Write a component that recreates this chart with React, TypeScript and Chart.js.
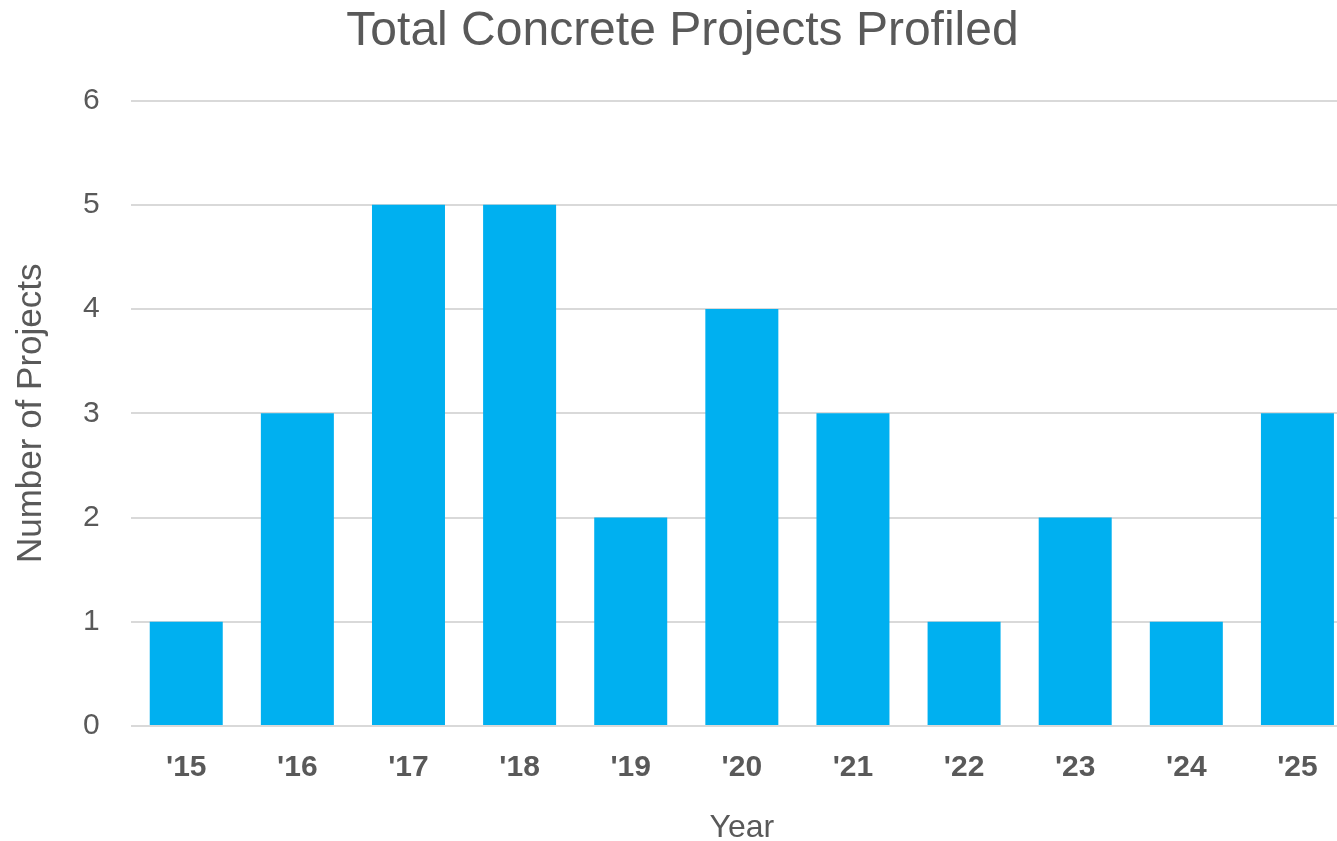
import React, { useEffect, useRef } from "react";
import { Chart, registerables } from "chart.js";

Chart.register(...registerables);

const categories = ["'15", "'16", "'17", "'18", "'19", "'20", "'21", "'22", "'23", "'24", "'25"];
const projects = [1, 3, 5, 5, 2, 4, 3, 1, 2, 1, 3];
const yTicks = [0, 1, 2, 3, 4, 5, 6];

const FONT = "'Liberation Sans', Arial, sans-serif";
const GREY = "#595959";

export default function App() {
  const ref = useRef<HTMLCanvasElement | null>(null);

  useEffect(() => {
    document.body.style.margin = "0";
    const canvas = ref.current;
    if (!canvas) return;
    const chart = new Chart(canvas, {
      type: "bar",
      data: {
        labels: categories,
        datasets: [
          {
            label: "Number of Projects",
            data: projects,
            backgroundColor: "#00B0F0",
            borderWidth: 0,
            categoryPercentage: 1,
            barPercentage: 0.657,
          },
        ],
      },
      options: {
        animation: false,
        responsive: false,
        maintainAspectRatio: false,
        layout: { padding: { left: 12, right: 0, top: 3, bottom: 0 } },
        plugins: {
          legend: { display: false },
          tooltip: { enabled: false },
          title: {
            display: true,
            text: "Total Concrete Projects Profiled",
            color: GREY,
            font: { family: FONT, size: 48, weight: "normal" },
            padding: { top: 0, bottom: 40 },
          },
        },
        scales: {
          x: {
            grid: { display: false, drawTicks: false },
            border: { display: false },
            ticks: {
              color: GREY,
              font: { family: FONT, size: 30, weight: "bold" },
              padding: 24,
            },
            title: {
              display: true,
              text: "Year",
              color: GREY,
              font: { family: FONT, size: 32, weight: "normal", lineHeight: 1 },
              padding: { top: 2, bottom: -3 },
            },
          },
          y: {
            min: yTicks[0],
            max: yTicks[yTicks.length - 1],
            afterBuildTicks: (scale: any) => {
              scale.ticks = yTicks.map((v) => ({ value: v }));
            },
            grid: { color: "#d9d9d9", lineWidth: 2, drawTicks: false },
            border: { display: false },
            ticks: {
              color: GREY,
              font: { family: FONT, size: 30 },
              padding: 31,
              stepSize: 1,
            },
            title: {
              display: true,
              text: "Number of Projects",
              color: GREY,
              font: { family: FONT, size: 35, weight: "normal", lineHeight: 1 },
              padding: { top: 1.5, bottom: 3.5 },
            },
          },
        },
      },
    });
    return () => chart.destroy();
  }, []);

  return (
    <div style={{ position: "fixed", left: 0, top: 0, width: 1337, height: 841, overflow: "hidden", background: "#fff" }}>
      <canvas ref={ref} width={1353} height={841} style={{ display: "block", width: 1353, height: 841 }} />
    </div>
  );
}
